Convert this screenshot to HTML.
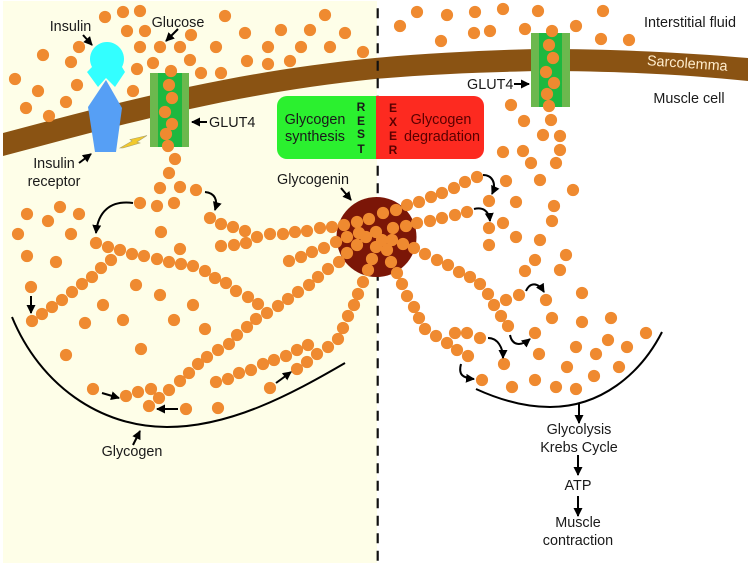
<!DOCTYPE html>
<html>
<head>
<meta charset="utf-8">
<style>
html,body{margin:0;padding:0;background:#fff}
svg{display:block;filter:blur(.35px)}
text{font-family:"Liberation Sans",sans-serif;font-size:14.4px;fill:#1a1a1a}
.c{text-anchor:middle}
.b{font-weight:bold;font-size:12px;text-anchor:middle}
.a{fill:none;stroke:#000;stroke-width:2}
</style>
</head>
<body>
<svg width="750" height="563" viewBox="0 0 750 563" xmlns="http://www.w3.org/2000/svg">
<defs>
<marker id="h" markerUnits="userSpaceOnUse" markerWidth="11" markerHeight="10" refX="8" refY="4.500" orient="auto"><path d="M0 0L9 4.500L0 9Z" fill="#000"/></marker>
</defs>
<rect x="3" y="1" width="374" height="562" fill="#fefee8"/>
<path d="M3,133 C120,102 230,72 375,58 C430,53 490,50 540,49 C620,49 690,53 748,58 L748,81 C690,75 620,71 540,71 C490,72 430,74 375,79 C230,94 120,125 3,156Z" fill="#8a5313"/>
<path d="M377.7 8.3V563" stroke="#111" stroke-width="2.2" stroke-dasharray="10 7.5" fill="none"/>

<!-- GLUT4 channels -->
<rect x="150" y="73" width="39" height="74" fill="#6cb84e"/><rect x="158" y="73" width="24" height="74" fill="#1db83f"/>
<rect x="531" y="33" width="39" height="74" fill="#6cb84e"/><rect x="539" y="33" width="23" height="74" fill="#1db83f"/>

<!-- Boxes -->
<path d="M375 96H287a10 10 0 0 0-10 10V149a10 10 0 0 0 10 10H376V96Z" fill="#2bf02f"/>
<path d="M376 96H474a10 10 0 0 1 10 10V149a10 10 0 0 1-10 10H376Z" fill="#fd2a20"/>

<!-- Glycogenin core -->
<circle cx="376.500" cy="237" r="40" fill="#7b1607"/>

<!-- Glucose -->
<path fill="none" stroke="#ef8a30" stroke-width="12.2" stroke-linecap="round" d="M105 17h0M123 12h0M140 11h0M225 16h0M325 15h0M127 31h0M145 31h0M191 35h0M245 33h0M281 30h0M310 30h0M345 33h0M79 47h0M43 55h0M140 47h0M160 47h0M180 47h0M216 47h0M268 47h0M301 47h0M330 47h0M363 52h0M71 62h0M153 63h0M190 60h0M247 61h0M268 64h0M290 61h0M137 69h0M201 73h0M221 73h0M171 71h0M15 79h0M38 91h0M77 85h0M133 91h0M169 85h0M172 98h0M66 102h0M26 108h0M49 116h0M165 112h0M172 124h0M166 134h0M168 146h0M175 159h0M169 173h0M160 188h0M180 187h0M196 190h0M140 203h0M157 206h0M174 203h0M210 218h0M221 224h0M233 227h0M245 231h0M257 237h0M270 234h0M283 234h0M295 232h0M307 231h0M320 228h0M332 227h0M221 246h0M234 245h0M246 243h0M289 261h0M301 257h0M312 252h0M324 248h0M336 242h0M339 262h0M328 269h0M318 277h0M309 285h0M298 292h0M288 299h0M278 306h0M267 313h0M256 319h0M247 327h0M237 335h0M229 344h0M218 350h0M207 357h0M198 364h0M189 373h0M180 381h0M169 390h0M159 398h0M149 406h0M151 389h0M138 392h0M126 396h0M93 389h0M186 409h0M218 408h0M270 388h0M297 369h0M307 362h0M317 354h0M328 347h0M338 339h0M216 382h0M228 379h0M239 373h0M251 370h0M263 364h0M274 360h0M286 356h0M297 350h0M308 345h0M66 355h0M141 349h0M343 328h0M348 316h0M354 305h0M358 294h0M363 282h0M96 243h0M108 247h0M120 250h0M132 254h0M144 256h0M157 259h0M169 262h0M181 264h0M193 266h0M205 271h0M215 278h0M226 283h0M236 291h0M248 297h0M258 304h0M111 260h0M101 268h0M92 277h0M82 284h0M72 292h0M62 300h0M52 307h0M42 314h0M32 321h0M31 287h0M27 214h0M60 207h0M79 214h0M48 221h0M18 234h0M71 234h0M161 232h0M180 249h0M27 256h0M56 262h0M136 285h0M160 295h0M193 305h0M103 305h0M85 323h0M123 320h0M174 320h0M205 329h0M344 225h0M357 222h0M369 219h0M347 237h0M359 233h0M366 237h0M357 245h0M347 253h0M372 259h0M368 270h0M376 232h0M376 247h0M383 213h0M396 210h0M407 205h0M393 228h0M406 226h0M417 223h0M392 240h0M382 240h0M403 244h0M387 250h0M414 248h0M391 262h0M397 273h0M419 202h0M431 197h0M442 193h0M454 188h0M465 182h0M477 177h0M430 221h0M442 218h0M455 215h0M467 212h0M425 254h0M437 260h0M448 265h0M459 272h0M470 277h0M480 284h0M488 294h0M494 305h0M501 316h0M508 326h0M506 300h0M519 295h0M402 284h0M407 296h0M414 307h0M419 318h0M425 329h0M436 336h0M447 343h0M457 350h0M468 356h0M455 333h0M467 333h0M480 338h0M489 201h0M506 181h0M540 180h0M573 190h0M516 202h0M554 206h0M503 223h0M552 221h0M489 228h0M516 237h0M540 240h0M489 245h0M566 255h0M535 260h0M560 270h0M525 271h0M582 293h0M546 300h0M552 318h0M582 322h0M611 318h0M535 333h0M646 333h0M608 340h0M576 347h0M627 347h0M596 354h0M539 354h0M504 364h0M482 380h0M512 387h0M535 380h0M556 387h0M576 389h0M594 376h0M567 367h0M619 367h0M417 12h0M447 15h0M475 12h0M503 9h0M538 11h0M603 11h0M400 26h0M474 33h0M490 31h0M525 29h0M576 26h0M441 41h0M601 39h0M629 40h0M552 31h0M549 45h0M553 58h0M546 72h0M554 83h0M547 94h0M549 106h0M511 105h0M524 121h0M551 120h0M543 135h0M560 136h0M560 150h0M503 152h0M523 151h0M531 163h0M556 163h0"/>

<!-- Insulin and receptor -->
<path d="M92 67A17 17 0 1 1 122 67L125 72L115 87L106 78L98 87L87 72Z" fill="#33ffff"/>
<path d="M106 80L122 108L116 152H95L88 107Z" fill="#569ff5"/>
<path d="M120 148L132 141L130 139.500L147 135.500L137 142L140 143L123 148Z" fill="#f2c92c" stroke="#a8a070" stroke-width=".6"/>

<!-- Glycogen outlines -->
<path class="a" d="M12,317 C40,385 100,427 167,427 C230,427 290,395 345,363"/>
<path class="a" d="M476,389 C500,400 525,407 550,407 C600,407 640,375 662,332"/>

<!-- Arrows -->
<path class="a" marker-end="url(#h)" d="M83 35L92 45"/>
<path class="a" marker-end="url(#h)" d="M178 29L166 41"/>
<path class="a" marker-end="url(#h)" d="M207 122H192"/>
<path class="a" marker-end="url(#h)" d="M79 163L91 154"/>
<path class="a" marker-end="url(#h)" d="M514 84H529"/>
<path class="a" marker-end="url(#h)" d="M341 188L351 200"/>
<path class="a" marker-end="url(#h)" d="M133 203C110 200 98 212 96 233"/>
<path class="a" marker-end="url(#h)" d="M205 192C215 193 218 200 215 210"/>
<path class="a" marker-end="url(#h)" d="M31 296V313"/>
<path class="a" marker-end="url(#h)" d="M102 393L119 398"/>
<path class="a" marker-end="url(#h)" d="M178 409H157"/>
<path class="a" marker-end="url(#h)" d="M276 383L291 372"/>
<path class="a" marker-end="url(#h)" d="M133 445L140 431"/>
<path class="a" marker-end="url(#h)" d="M483 175C492 175 497 183 492 194"/>
<path class="a" marker-end="url(#h)" d="M474 209C482 207 489 210 490 221"/>
<path class="a" marker-end="url(#h)" d="M526 291C530 282 538 282 544 292"/>
<path class="a" marker-end="url(#h)" d="M510 335C512 345 520 347 530 339"/>
<path class="a" marker-end="url(#h)" d="M488 338C498 338 503 348 503 358"/>
<path class="a" marker-end="url(#h)" d="M461 364C458 375 463 378 474 379"/>
<path class="a" marker-end="url(#h)" d="M579 403V423"/>
<path class="a" marker-end="url(#h)" d="M578 455V475"/>
<path class="a" marker-end="url(#h)" d="M578 496V516"/>

<!-- Labels -->
<text class="c" x="70.500" y="31">Insulin</text>
<text class="c" x="178" y="27">Glucose</text>
<text x="209" y="127">GLUT4</text>
<text class="c" x="54" y="168">Insulin</text>
<text class="c" x="54" y="186">receptor</text>
<text class="c" x="315" y="124">Glycogen</text>
<text class="c" x="315" y="141">synthesis</text>
<text class="b" x="361" y="111">R</text><text class="b" x="361" y="125">E</text><text class="b" x="361" y="138">S</text><text class="b" x="361" y="153">T</text>
<text class="b" x="393" y="112" style="fill:#5a0000">E</text><text class="b" x="393" y="126" style="fill:#5a0000">X</text><text class="b" x="393" y="140" style="fill:#5a0000">E</text><text class="b" x="393" y="154" style="fill:#5a0000">R</text>
<text class="c" x="441" y="124" style="fill:#5a0000">Glycogen</text>
<text class="c" x="442" y="141" style="fill:#5a0000">degradation</text>
<text class="c" x="313" y="184">Glycogenin</text>
<text class="c" x="690" y="27">Interstitial fluid</text>
<text class="c" x="687" y="68" transform="rotate(4 687 68)" style="fill:#ffeccb">Sarcolemma</text>
<text class="c" x="689" y="103">Muscle cell</text>
<text x="467" y="89">GLUT4</text>
<text class="c" x="132" y="456">Glycogen</text>
<text class="c" x="579" y="434">Glycolysis</text>
<text class="c" x="579" y="452">Krebs Cycle</text>
<text class="c" x="578" y="490">ATP</text>
<text class="c" x="578" y="527">Muscle</text>
<text class="c" x="578" y="545">contraction</text>
</svg>
</body>
</html>
